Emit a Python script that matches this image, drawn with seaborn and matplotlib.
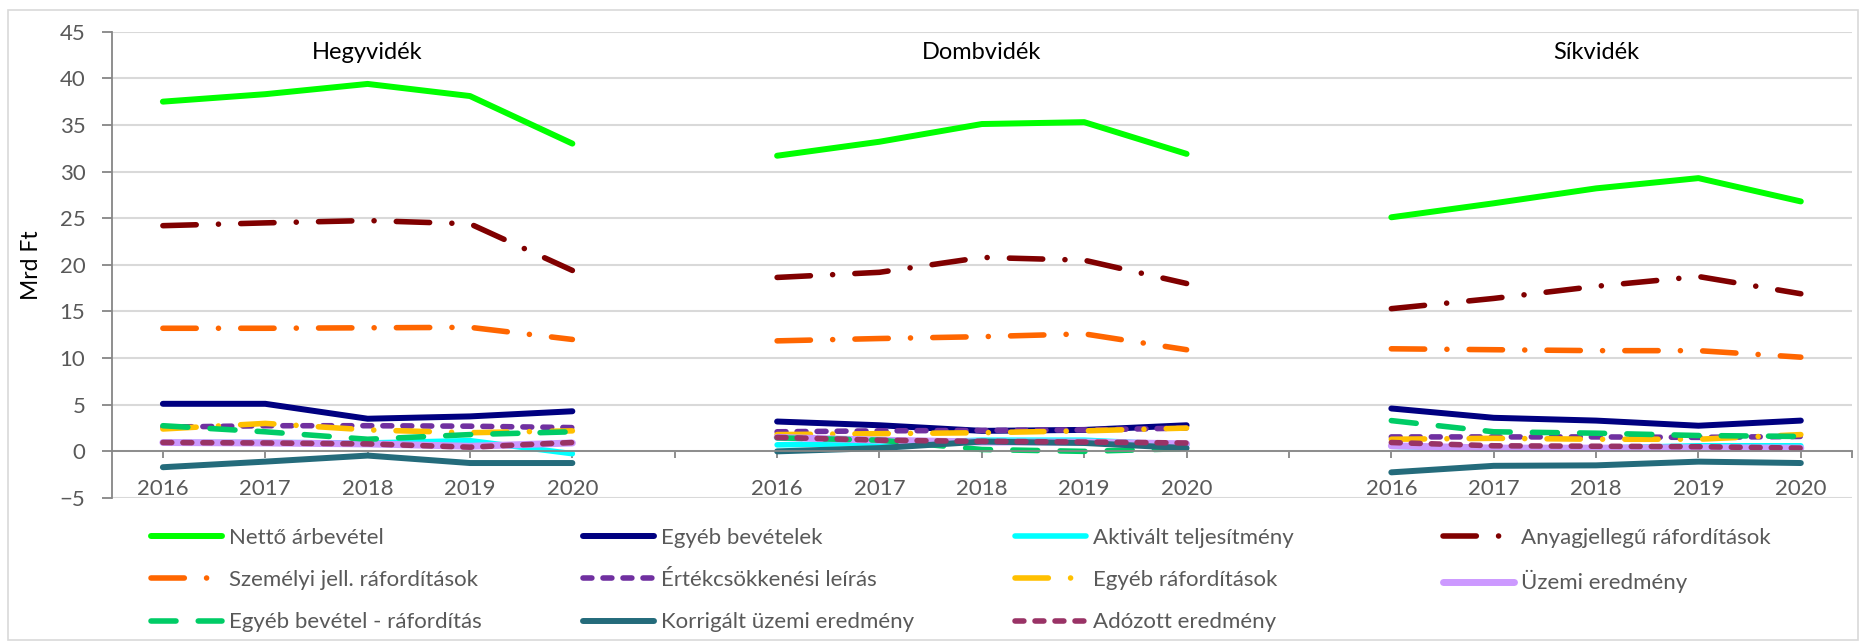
import pandas as pd
import matplotlib.pyplot as plt
import seaborn as sns
from matplotlib.lines import Line2D
from matplotlib.patches import Rectangle


# =============================================================================
# Data (Mrd Ft), 3 regions x 5 years
# =============================================================================

regions = ['Hegyvidék', 'Dombvidék', 'Síkvidék']
years = [2016, 2017, 2018, 2019, 2020]

netto = [37.5, 38.3, 39.4, 38.1, 33.0, 31.7, 33.2, 35.1, 35.3, 31.9, 25.1, 26.6, 28.2, 29.3, 26.8]
egyeb_bev = [5.1, 5.1, 3.5, 3.75, 4.3, 3.2, 2.8, 2.2, 2.3, 2.8, 4.6, 3.6, 3.3, 2.75, 3.3]
aktivalt = [0.95, 0.95, 0.9, 1.15, -0.25, 0.7, 0.85, 1.2, 1.2, 0.7, 0.55, 0.25, 0.35, 0.6, 0.6]
anyag = [24.2, 24.5, 24.75, 24.4, 19.4, 18.65, 19.2, 20.8, 20.5, 18.0, 15.3, 16.4, 17.7, 18.75, 16.9]
szemelyi = [13.2, 13.2, 13.25, 13.3, 12.0, 11.85, 12.1, 12.3, 12.6, 10.9, 11.0, 10.9, 10.8, 10.8, 10.1]
ertekcs = [2.6, 2.75, 2.75, 2.7, 2.55, 2.1, 2.2, 2.25, 2.3, 2.5, 1.55, 1.55, 1.55, 1.5, 1.6]
egyeb_raf = [2.4, 3.0, 2.3, 2.0, 2.2, 1.8, 1.9, 2.0, 2.2, 2.5, 1.3, 1.4, 1.3, 1.3, 1.8]
uzemi = [0.95, 0.9, 0.8, 0.55, 0.9, 1.5, 1.2, 1.0, 1.0, 0.8, 0.6, 0.35, 0.35, 0.4, 0.35]
egyeb_bev_raf = [2.75, 2.1, 1.3, 1.8, 2.1, 1.45, 1.2, 0.2, 0.0, 0.3, 3.3, 2.1, 1.95, 1.7, 1.6]
korrigalt = [-1.7, -1.1, -0.45, -1.25, -1.25, 0.0, 0.35, 1.05, 0.9, 0.35, -2.25, -1.55, -1.5, -1.1, -1.25]
adozott = [0.95, 0.9, 0.8, 0.45, 0.95, 1.5, 1.2, 1.07, 1.0, 0.9, 0.95, 0.6, 0.55, 0.5, 0.35]

# name, values, color, dash pattern, linewidth
dashdot = (0, (6, 4, 0.01, 4))
longdash = (0, (4.5, 4))
shortdash = (0, (1.6, 2.0))

series = [
    ('Nettő árbevétel', netto, '#00ff00', '-', 4.3),
    ('Egyéb bevételek', egyeb_bev, '#000080', '-', 4.3),
    ('Aktivált teljesítmény', aktivalt, '#00ffff', '-', 4.0),
    ('Anyagjellegű ráfordítások', anyag, '#800000', dashdot, 4.0),
    ('Személyi jell. ráfordítások', szemelyi, '#ff6600', dashdot, 4.0),
    ('Értékcsökkenési leírás', ertekcs, '#7030a0', shortdash, 4.0),
    ('Egyéb ráfordítások', egyeb_raf, '#ffc000', dashdot, 4.0),
    ('Üzemi eredmény', uzemi, '#cc99ff', '-', 5.0),
    ('Egyéb bevétel - ráfordítás', egyeb_bev_raf, '#00cc66', longdash, 4.0),
    ('Korrigált üzemi eredmény', korrigalt, '#246b7b', '-', 4.3),
    ('Adózott eredmény', adozott, '#993366', shortdash, 4.0),
]

# category axis: 5 years per region, one blank category between regions
step = len(years) + 1
rows = []
for name, vals, *_ in series:
    for r, reg in enumerate(regions):
        for j, yr in enumerate(years):
            rows.append({'Series': name, 'Region': reg, 'Year': yr,
                         'pos': r * step + j, 'Value': vals[r * len(years) + j]})
df = pd.DataFrame(rows)


# =============================================================================
# Plot
# =============================================================================

sns.set_theme(style='white')
plt.rcParams['font.family'] = ['Lato', 'DejaVu Sans']

W, H = 1865, 644
fig = plt.figure(figsize=(W / 100, H / 100), dpi=100)
fig.add_artist(Rectangle((8 / W, 4 / H), 1850 / W, 630 / H, transform=fig.transFigure,
                         fill=False, edgecolor='#d9d9d9', lw=1.2))
ax = fig.add_axes([111.7 / W, 1 - 498 / H, (1852 - 111.7) / W, (498 - 31.7) / H])

for name, vals, color, ls, lw in series:
    sns.lineplot(data=df[df['Series'] == name], x='pos', y='Value', units='Region',
                 estimator=None, color=color, linestyle=ls, lw=lw,
                 solid_capstyle='round', dash_capstyle='round', legend=False, ax=ax)

n_cat = step * len(regions) - 1
ax.set_xlim(-0.5, n_cat - 0.5)
ax.set_ylim(-5, 45)
ax.set_yticks(range(-5, 50, 5))
ticks = list(range(n_cat)) + [n_cat - 0.5]
labels = []
for i in range(n_cat):
    labels.append(str(years[i % step]) if i % step < len(years) else '')
labels.append('')
ax.set_xticks(ticks)
ax.set_xticklabels(labels)

ax.grid(axis='y', color='#d9d9d9', lw=1.5)
ax.set_axisbelow(True)
for s in ['top', 'right']:
    ax.spines[s].set_visible(False)
ax.spines['bottom'].set_position(('data', 0))
ax.spines['bottom'].set_color('#868686')
ax.spines['left'].set_color('#868686')
ax.spines['bottom'].set_linewidth(1.3)
ax.spines['left'].set_linewidth(1.3)
ax.tick_params(axis='x', direction='out', length=5, width=1.3, color='#868686',
               pad=15, labelsize=16, labelcolor='#595959', bottom=True)
ax.tick_params(axis='y', direction='out', length=7, width=1.3, color='#868686',
               pad=12, labelsize=16, labelcolor='#595959', left=True)

ax.set_xlabel('')
ax.set_ylabel('Mrd Ft', fontsize=16.5, color='black', labelpad=13)

for r, reg in enumerate(regions):
    ax.text(r * step + (len(years) - 1) / 2, 42.8, reg, ha='center', va='center',
            fontsize=17, color='black')

# legend: 4 equally spaced columns, filled row by row
handles = [Line2D([], [], color=c, linestyle=ls, lw=lw, solid_capstyle='round',
                  dash_capstyle='round') for _, _, c, ls, lw in series]
names = [s[0] for s in series]
col_x = [151, 583, 1015, 1443]
for c, x in enumerate(col_x):
    idx = list(range(c, len(series), 4))
    leg = fig.legend([handles[i] for i in idx], [names[i] for i in idx],
                     loc='upper left', bbox_to_anchor=(x / W, 1 - 528 / H),
                     frameon=False, fontsize=16, handlelength=3.2, handletextpad=0.3,
                     labelspacing=1.0, borderpad=0, borderaxespad=0)
    for t in leg.get_texts():
        t.set_color('#595959')

fig.savefig('out.png', dpi=100)
